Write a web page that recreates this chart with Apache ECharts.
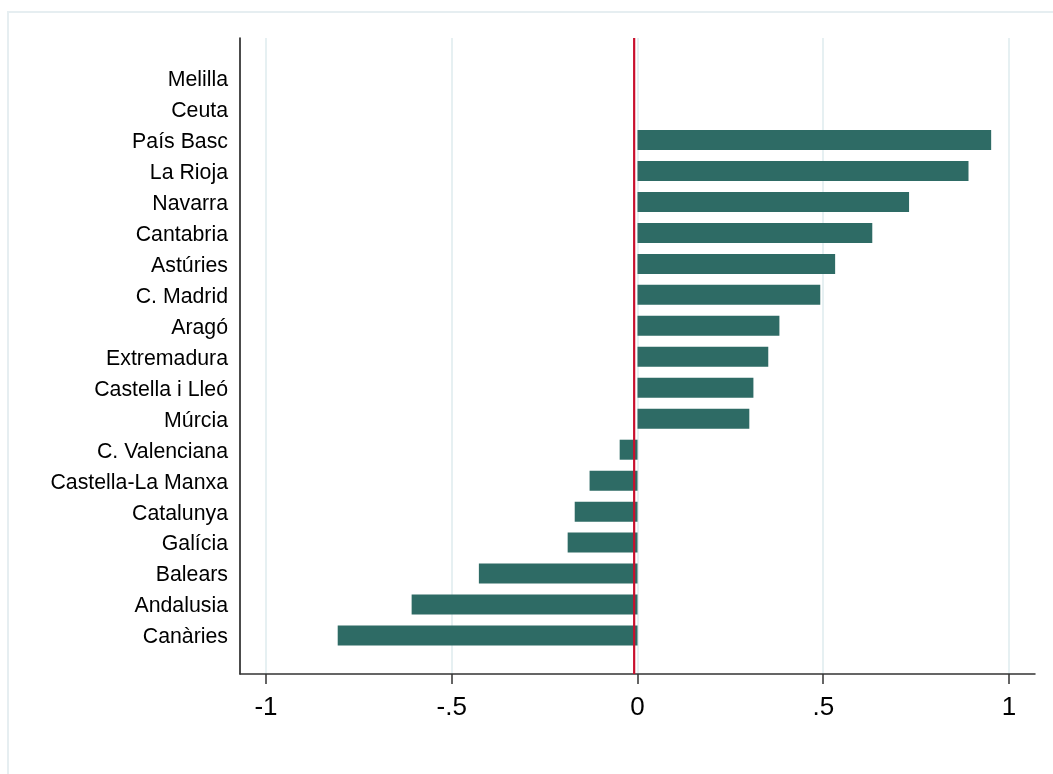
<!DOCTYPE html>
<html>
<head>
<meta charset="utf-8">
<script src="https://cdn.jsdelivr.net/npm/echarts@6/dist/echarts.min.js"></script>
<style>html,body{margin:0;padding:0;background:#fff}#c{width:1053px;height:774px}</style>
</head>
<body>
<div id="c"></div>
<script>
const categories = ["Melilla","Ceuta","País Basc","La Rioja","Navarra","Cantabria","Astúries","C. Madrid","Aragó","Extremadura","Castella i Lleó","Múrcia","C. Valenciana","Castella-La Manxa","Catalunya","Galícia","Balears","Andalusia","Canàries"];
const values = [null,null,0.952,0.891,0.731,0.632,0.532,0.492,0.382,0.352,0.312,0.301,-0.048,-0.129,-0.169,-0.188,-0.427,-0.608,-0.807];
const xTicks = [-1,-0.5,0,0.5,1];
const xTickLabels = ["-1","-.5","0",".5","1"];
const refLineX = -0.009;
const xMin = -1.07, xMax = 1.07;

const font = '"Liberation Sans", Arial, sans-serif';
const chart = echarts.init(document.getElementById('c'), null, {renderer:'canvas'});
chart.setOption({
  animation:false,
  backgroundColor:'#fff',
  graphic:[{type:'rect',shape:{x:8,y:12,width:1100,height:800},style:{fill:'none',stroke:'#e6eef1',lineWidth:2},z:-10}],
  grid:[
    {left:240,right:18,top:38,bottom:100},
    {left:240,right:18,top:62.6,height:588.4}
  ],
  xAxis:[
    {type:'value',gridIndex:0,min:xMin,max:xMax,
     axisLine:{show:true,onZero:false,lineStyle:{color:'#333',width:1.5}},
     axisTick:{show:true,length:10,customValues:xTicks,lineStyle:{color:'#333',width:1.5}},
     axisLabel:{customValues:xTicks,margin:21,fontSize:26,color:'#000',fontFamily:font,
       formatter:function(v){const i=xTicks.findIndex(t=>Math.abs(t-v)<1e-9);return i>=0?xTickLabels[i]:'';}},
     splitLine:{show:true,lineStyle:{color:'#e6f0f2',width:2}}},
    {type:'value',gridIndex:1,min:xMin,max:xMax,show:false,splitLine:{show:false}}
  ],
  yAxis:[
    {type:'value',gridIndex:0,min:0,max:1,
     axisLine:{show:true,onZero:false,lineStyle:{color:'#111',width:1.5}},
     axisTick:{show:false},axisLabel:{show:false},splitLine:{show:false}},
    {type:'category',gridIndex:1,data:categories,inverse:true,
     axisLine:{show:false,onZero:false},axisTick:{show:false},
     axisLabel:{margin:12,color:'#000',
       formatter:function(v){return '{a|'+v+'}';},
       rich:{a:{fontSize:21.3,fontFamily:font,color:'#000',padding:[4,0,0,0]}}},
     splitLine:{show:false}}
  ],
  series:[
    {type:'bar',xAxisIndex:1,yAxisIndex:1,data:values,barWidth:20,
     itemStyle:{color:'#2e6b65'},z:3},
    {type:'line',xAxisIndex:0,yAxisIndex:0,data:[[refLineX,0],[refLineX,1]],
     symbol:'none',lineStyle:{color:'#c8102e',width:2.2},z:4}
  ]
});
</script>
</body>
</html>
